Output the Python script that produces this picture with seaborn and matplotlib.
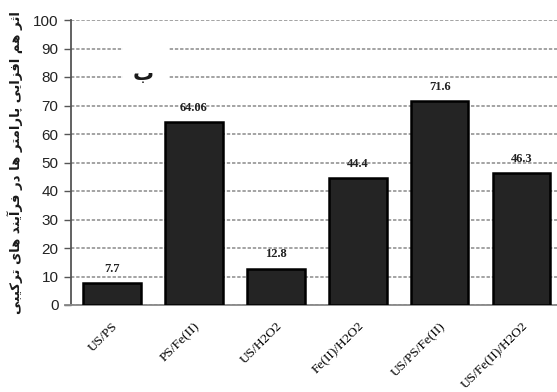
import matplotlib
matplotlib.use("Agg")
import matplotlib.pyplot as plt
import seaborn as sns
import pandas as pd
from matplotlib.patches import Rectangle
from matplotlib.font_manager import findfont, FontProperties

# --- data -------------------------------------------------------------
processes = ["US/PS", "PS/Fe(II)", "US/H2O2", "Fe(II)/H2O2", "US/PS/Fe(II)", "US/Fe(II)/H2O2"]
synergy = [7.7, 64.06, 12.8, 44.4, 71.6, 46.3]
value_labels = ["7.7", "64.06", "12.8", "44.4", "71.6", "46.3"]
y_ticks = [0, 10, 20, 30, 40, 50, 60, 70, 80, 90, 100]
y_title = "اثر هم افزایی پارامتر ها در فرآیند های ترکیبی"
panel_tag = "ب"

# --- minimal Arabic-script shaping (matplotlib has no text shaping) ----
# char -> (isolated, final, initial, medial); None where the form doesn't exist
FORMS = {
    "ا": ("\uFE8D", "\uFE8E", None, None),
    "آ": ("\uFE81", "\uFE82", None, None),
    "ب": ("\uFE8F", "\uFE90", "\uFE91", "\uFE92"),
    "پ": ("\uFB56", "\uFB57", "\uFB58", "\uFB59"),
    "ت": ("\uFE95", "\uFE96", "\uFE97", "\uFE98"),
    "ث": ("\uFE99", "\uFE9A", "\uFE9B", "\uFE9C"),
    "د": ("\uFEA9", "\uFEAA", None, None),
    "ر": ("\uFEAD", "\uFEAE", None, None),
    "ز": ("\uFEAF", "\uFEB0", None, None),
    "ف": ("\uFED1", "\uFED2", "\uFED3", "\uFED4"),
    "ک": ("\uFB8E", "\uFB8F", "\uFB90", "\uFB91"),
    "م": ("\uFEE1", "\uFEE2", "\uFEE3", "\uFEE4"),
    "ن": ("\uFEE5", "\uFEE6", "\uFEE7", "\uFEE8"),
    "ه": ("\uFEE9", "\uFEEA", "\uFEEB", "\uFEEC"),
    "ی": ("\uFBFC", "\uFBFD", "\uFBFE", "\uFBFF"),
}


def shape_rtl(text):
    out = []
    for i, ch in enumerate(text):
        if ch not in FORMS:
            out.append(ch)
            continue
        prev = text[i - 1] if i > 0 else ""
        nxt = text[i + 1] if i + 1 < len(text) else ""
        joins_prev = prev in FORMS and FORMS[prev][2] is not None
        joins_next = FORMS[ch][2] is not None and nxt in FORMS
        iso, fin, ini, med = FORMS[ch]
        if joins_prev and joins_next:
            out.append(med)
        elif joins_prev:
            out.append(fin)
        elif joins_next:
            out.append(ini)
        else:
            out.append(iso)
    return "".join(reversed(out))


sns.set_theme(style="white")

df = pd.DataFrame({"process": processes, "value": synergy})

fig = plt.figure(figsize=(5.57, 3.92), dpi=100)
ax = fig.add_axes([71 / 557, 87 / 392, 486 / 557, 285 / 392])

sns.barplot(data=df, x="process", y="value", ax=ax, color="#242424",
            width=0.7, edgecolor="black", linewidth=1.8, saturation=1, zorder=3)

ax.set_ylim(0, 100)
ax.set_xlim(-0.5, 5.43)
ax.set_yticks(y_ticks)

ax.yaxis.grid(True, linestyle=(0, (2.2, 1.2)), color="#8a8a8a", linewidth=1.1, zorder=0)
ax.xaxis.grid(False)

for s in ["top", "right"]:
    ax.spines[s].set_visible(False)
ax.spines["left"].set_color("#555555")
ax.spines["left"].set_linewidth(1.3)
ax.spines["bottom"].set_color("#888888")
ax.spines["bottom"].set_linewidth(1.3)
ax.spines["bottom"].set_bounds(-0.57, 5.43)

ax.tick_params(axis="y", which="both", left=True, length=5, width=1.0,
               color="#555555", pad=4, labelsize=11)
ax.tick_params(axis="x", bottom=False, pad=5)

narrow = "Liberation Sans Narrow"
try:
    findfont(FontProperties(family=narrow), fallback_to_default=False)
except Exception:
    narrow = "Liberation Sans"
for lab in ax.get_yticklabels():
    lab.set_fontfamily(narrow)
    lab.set_color("#222222")

ax.set_xticks(range(len(processes)))
ax.set_xticklabels(processes, rotation=45, ha="right", rotation_mode="anchor",
                   family="Liberation Serif", fontsize=9.6, color="black")
ax.set_xlabel("")

ax.set_ylabel(shape_rtl(y_title), family="DejaVu Sans", fontweight="bold",
              fontsize=9.5, color="#1a1a1a", labelpad=7)

# value labels above each bar
for i, (v, lab) in enumerate(zip(synergy, value_labels)):
    ax.annotate(lab, (i, v), xytext=(0, 6), textcoords="offset points",
                ha="center", va="bottom", family="Liberation Serif",
                fontweight="bold", fontsize=9, color="#222222", zorder=4)

# panel tag on a white patch that interrupts the grid
ax.add_patch(Rectangle((0.134, 71.5), 0.55, 21, facecolor="white",
                       edgecolor="none", zorder=1))
ax.text(0.378, 81, shape_rtl(panel_tag), ha="center", va="center",
        family="DejaVu Sans", fontweight="bold", fontsize=15, color="#1a1a1a",
        zorder=4)

fig.savefig("out.png", dpi=100)
